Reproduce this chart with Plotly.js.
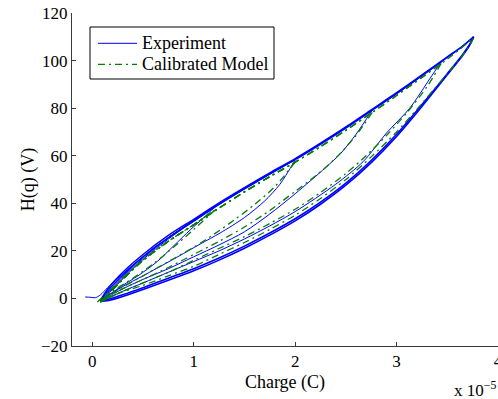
<!DOCTYPE html>
<html>
<head>
<meta charset="utf-8">
<script src="https://cdn.plot.ly/plotly-3.0.1.min.js"></script>
<style>html,body{margin:0;padding:0;background:#fff;}#chart{width:498px;height:399px;}</style>
</head>
<body>
<div id="chart"></div>
<script>
// Charge in units of 1e-5 C, H(q) in V.
const xTicks = [0, 1, 2, 3, 4];
const yTicks = [-20, 0, 20, 40, 60, 80, 100, 120];
const yTickLabels = ['\u221220', '0', '20', '40', '60', '80', '100', '120'];
const seriesNames = ['Experiment', 'Calibrated Model'];

// ---------- Experiment: minor loops ----------
const expAscAQ  = [-0.07, -0.02, 0.03, 0.08, 0.15, 0.25, 0.4, 0.6, 0.8, 1.0, 1.22];
const expAscAH  = [0.6, 0.5, 0.3, 1.5, 4.5, 8.5, 14, 21, 27, 32.5, 39];
const expDescAQ = [1.22, 1.1, 0.97, 0.8, 0.64, 0.45, 0.3, 0.18, 0.1];
const expDescAH = [39, 34, 29, 22, 15.5, 9.5, 5.5, 2, 0];
const expAscBQ  = [0.1, 0.15, 0.25, 0.4, 0.6, 0.8, 1.0, 1.25, 1.5, 1.75, 2.0];
const expAscBH  = [0, 2.5, 7, 13.5, 21, 27, 33, 40, 46.5, 52.5, 58.2];
const expDescBQ = [2.0, 1.85, 1.7, 1.5, 1.26, 1.07, 0.8, 0.5, 0.3, 0.15, 0.1];
const expDescBH = [58.2, 48, 41, 34, 27.5, 23, 16.5, 9.5, 5, 1, -0.5];
const expAscCQ  = [0.1, 0.15, 0.25, 0.4, 0.6, 0.8, 1.0, 1.25, 1.5, 1.75, 2.0, 2.25, 2.5, 2.76];
const expAscCH  = [-0.5, 2, 6.5, 13, 20.5, 27, 33, 40, 46.5, 52.5, 58.5, 65, 72, 79.2];
const expDescCQ = [2.76, 2.6, 2.45, 2.3, 2.0, 1.75, 1.5, 1.25, 1.0, 0.75, 0.5, 0.3, 0.15, 0.1];
const expDescCH = [79.2, 69, 61, 55, 44, 35.5, 28, 22.5, 17.5, 12.5, 8, 4, 0.5, -1];
const expAscDQ  = [0.1, 0.15, 0.25, 0.4, 0.6, 0.8, 1.0, 1.25, 1.5, 1.75, 2.0, 2.25, 2.5, 2.75, 3.0, 3.25, 3.44];
const expAscDH  = [-1, 1.5, 6, 12.5, 20, 26.5, 32.5, 39.5, 46, 52.3, 58.5, 65, 72, 79, 86, 93.5, 99.5];
const expDescDQ = [3.44, 3.33, 3.13, 2.9, 2.67, 2.4, 2.0, 1.75, 1.5, 1.25, 1.0, 0.75, 0.5, 0.3, 0.15, 0.1];
const expDescDH = [99.5, 92.5, 80, 69.5, 57.5, 48, 36.5, 30.5, 25, 20, 15.5, 11, 6.5, 3, 0, -1];

// ---------- Experiment: major loop (repeated cycles) ----------
const expUpperQ  = [0.08, 0.12, 0.2, 0.35, 0.5, 0.75, 1.0, 1.25, 1.5, 1.75, 2.0, 2.25, 2.5, 2.75, 3.0, 3.25, 3.5, 3.65, 3.76];
const expUpper1H = [-1, 1.5, 5.5, 12, 17.5, 25.5, 32.5, 39.5, 46, 52.3, 58.3, 64.8, 71.6, 78.8, 86.1, 93.6, 101.3, 105.9, 110];
const expUpper2H = [-1, 2, 6.5, 13, 18.5, 26.5, 33.3, 40.2, 46.6, 52.8, 58.8, 65.3, 72.1, 79.3, 86.5, 94, 101.6, 106.1, 110];
const expLowerQ  = [3.76, 3.72, 3.65, 3.5, 3.25, 3.0, 2.75, 2.5, 2.25, 2.0, 1.75, 1.5, 1.25, 1.0, 0.75, 0.5, 0.3, 0.15, 0.08];
const expLower1H = [110, 106.8, 102.5, 94.5, 81.5, 69, 58, 48.5, 40.5, 33.5, 27.5, 22, 17, 12.5, 8.5, 4.5, 1.5, -0.5, -1.2];
const expLower2H = [110, 106.4, 102, 94, 80.7, 68.1, 57.1, 47.6, 39.6, 32.6, 26.6, 21.1, 16.1, 11.6, 7.6, 3.8, 0.8, -1, -1.2];

// ---------- Calibrated model ----------
const modUpperQ = [0.08, 0.15, 0.3, 0.5, 0.75, 1.0, 1.25, 1.5, 1.75, 2.0, 2.25, 2.5, 2.75, 3.0, 3.25, 3.5, 3.76];
const modUpperH = [-1.5, 1.5, 8, 16, 24, 31, 38, 44.8, 51.2, 57.3, 63.8, 70.7, 77.9, 85.3, 92.9, 100.6, 109.5];
const modLowerQ = [3.76, 3.7, 3.6, 3.4, 3.2, 3.0, 2.75, 2.5, 2.25, 2.0, 1.75, 1.5, 1.25, 1.0, 0.75, 0.5, 0.25, 0.08];
const modLowerH = [109.5, 105, 99.5, 89.5, 79.5, 70, 59.5, 50, 42, 35, 29, 23.5, 18.5, 13.5, 9.5, 5.5, 2, -1.5];
const modAscAQ  = [0.05, 0.1, 0.2, 0.4, 0.6, 0.8, 1.0, 1.22];
const modAscAH  = [-1.5, 0.5, 4.5, 12.5, 19.5, 25.5, 31, 37.5];
const modDescAQ = [1.22, 1.0, 0.8, 0.6, 0.4, 0.2, 0.08];
const modDescAH = [37.5, 29, 21.5, 14.5, 8.5, 3, -1.5];
const modDescBQ = [2.0, 1.8, 1.6, 1.4, 1.2, 1.0, 0.75, 0.5, 0.25, 0.08];
const modDescBH = [57.3, 47, 39.5, 33, 27, 21.5, 15.5, 9.5, 3.5, -1.5];
const modDescCQ = [2.76, 2.6, 2.4, 2.2, 2.0, 1.75, 1.5, 1.25, 1.0, 0.75, 0.5, 0.25, 0.08];
const modDescCH = [78.2, 68.5, 59, 51.5, 45, 37, 30, 24, 18.5, 13, 8, 3, -1.5];
const modDescDQ = [3.44, 3.3, 3.1, 2.9, 2.7, 2.5, 2.25, 2.0, 1.75, 1.5, 1.25, 1.0, 0.75, 0.5, 0.25, 0.08];
const modDescDH = [98.8, 89, 78, 68.5, 60, 52.5, 44.5, 37.5, 31.5, 26, 21, 16, 11, 6.5, 2, -1.5];
const modRevB = [2.0, 57.3];
const modRevC = [2.76, 78.2];
const modRevD = [3.44, 98.8];

const BLUE = 'rgb(0,0,255)';
const GREEN = 'rgb(0,128,0)';
const MODEL_DASH = '7px,4px,2px,4px';
const traces = [];

function expTrace(q, h, w) {
  traces.push({
    x: q, y: h, type: 'scatter', mode: 'lines',
    name: seriesNames[0], showlegend: false,
    line: {color: BLUE, width: w, shape: 'spline', smoothing: 0.8},
    hoverinfo: 'skip'
  });
}
function modTrace(q, h) {
  traces.push({
    x: q, y: h, type: 'scatter', mode: 'lines',
    name: seriesNames[1], showlegend: false,
    line: {color: GREEN, width: 1.3, dash: MODEL_DASH, shape: 'spline', smoothing: 0.8},
    hoverinfo: 'skip'
  });
}
// ascending model branches follow the model's upper branch up to each reversal point
function upTo(q, h, rev) {
  const xs = [], ys = [];
  for (let i = 0; i < q.length && q[i] < rev[0]; i++) { xs.push(q[i]); ys.push(h[i]); }
  xs.push(rev[0]); ys.push(rev[1]);
  return [xs, ys];
}

expTrace(expAscAQ, expAscAH, 1);
expTrace(expDescAQ, expDescAH, 1);
expTrace(expAscBQ, expAscBH, 1);
expTrace(expDescBQ, expDescBH, 1);
expTrace(expAscCQ, expAscCH, 1);
expTrace(expDescCQ, expDescCH, 1);
expTrace(expAscDQ, expAscDH, 1);
expTrace(expDescDQ, expDescDH, 1);
expTrace(expUpperQ, expUpper1H, 1.4);
expTrace(expLowerQ, expLower1H, 1.6);
expTrace(expUpperQ, expUpper2H, 1.4);
expTrace(expLowerQ, expLower2H, 1.6);

modTrace(modAscAQ, modAscAH);
modTrace(modDescAQ, modDescAH);
let b = upTo(modUpperQ, modUpperH, modRevB); modTrace(b[0], b[1]);
modTrace(modDescBQ, modDescBH);
b = upTo(modUpperQ, modUpperH, modRevC); modTrace(b[0], b[1]);
modTrace(modDescCQ, modDescCH);
b = upTo(modUpperQ, modUpperH, modRevD); modTrace(b[0], b[1]);
modTrace(modDescDQ, modDescDH);
modTrace(modUpperQ, modUpperH);
modTrace(modLowerQ, modLowerH);

// ---------- layout (pixel geometry of the reference) ----------
const W = 498, H = 399, ML = 72, MR = 0, MT = 13, MB = 53;
const PW = W - ML - MR, PH = H - MT - MB;
const px = v => (v - ML) / PW;          // pixel x -> paper x
const py = v => (H - MB - v) / PH;      // pixel y -> paper y

const FONT = 'Liberation Serif, Times New Roman, serif';
const axisCommon = {
  showline: true, linecolor: '#3a3a3a', linewidth: 1,
  ticks: 'inside', ticklen: 4, tickcolor: '#3a3a3a', tickwidth: 1,
  showgrid: false, zeroline: false, mirror: false,
  tickfont: {family: FONT, size: 17, color: '#000'}
};

// legend drawn as a box, two line samples and two text labels
const legBox = {x0: 90, x1: 274, y0: 27, y1: 79};
const legRows = [43.3, 64.3];
const shapes = [
  {type: 'rect', xref: 'paper', yref: 'paper', layer: 'above',
   x0: px(legBox.x0), x1: px(legBox.x1), y0: py(legBox.y1), y1: py(legBox.y0),
   fillcolor: '#fff', line: {color: '#000', width: 1}},
  {type: 'line', xref: 'paper', yref: 'paper', layer: 'above',
   x0: px(98), x1: px(137), y0: py(legRows[0]), y1: py(legRows[0]),
   line: {color: BLUE, width: 1}},
  {type: 'line', xref: 'paper', yref: 'paper', layer: 'above',
   x0: px(98), x1: px(137), y0: py(legRows[1]), y1: py(legRows[1]),
   line: {color: GREEN, width: 1.3, dash: MODEL_DASH}}
];
const annotations = [
  {xref: 'paper', yref: 'paper', x: px(140), y: py(legRows[0]), xanchor: 'left', yanchor: 'middle',
   text: seriesNames[0], showarrow: false, font: {family: FONT, size: 18, color: '#000'}},
  {xref: 'paper', yref: 'paper', x: px(140), y: py(legRows[1]), xanchor: 'left', yanchor: 'middle',
   text: seriesNames[1], showarrow: false, font: {family: FONT, size: 18, color: '#000'}},
  {xref: 'paper', yref: 'paper', x: 1.0, y: -0.13, xanchor: 'right', yanchor: 'middle',
   text: 'x 10<sup>\u22125</sup>', showarrow: false,
   font: {family: FONT, size: 17, color: '#000'}}
];

const layout = {
  width: W, height: H,
  margin: {l: ML, r: MR, t: MT, b: MB},
  paper_bgcolor: '#fff', plot_bgcolor: '#fff',
  font: {family: FONT, size: 17, color: '#000'},
  showlegend: false,
  xaxis: Object.assign({}, axisCommon, {
    range: [-0.2, 4], tickmode: 'array', tickvals: xTicks,
    ticklabeloverflow: 'allow',
    title: {text: 'Charge (C)', font: {family: FONT, size: 18, color: '#000'}, standoff: 4}
  }),
  yaxis: Object.assign({}, axisCommon, {
    range: [-20, 120], tickmode: 'array', tickvals: yTicks, ticktext: yTickLabels,
    title: {text: 'H(q) (V)', font: {family: FONT, size: 18, color: '#000'}, standoff: 1}
  }),
  shapes: shapes,
  annotations: annotations
};
Plotly.newPlot('chart', traces, layout, {displayModeBar: false, staticPlot: true});
</script>
</body>
</html>
